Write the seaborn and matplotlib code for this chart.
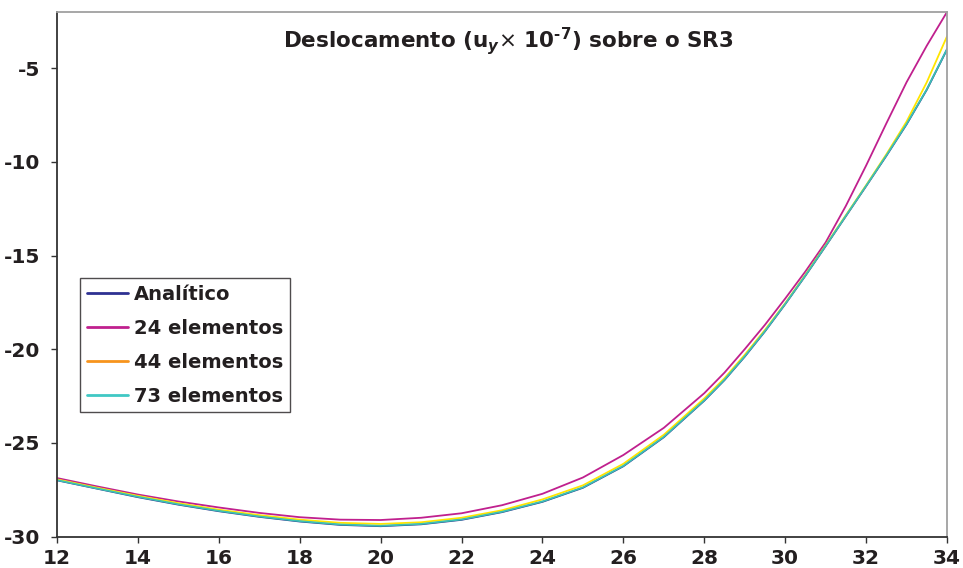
import numpy as np
import pandas as pd
import matplotlib
matplotlib.use("Agg")
import matplotlib.pyplot as plt
from matplotlib.lines import Line2D
import seaborn as sns

# ---- data ----
x_vals = [12, 13, 14, 15, 16, 17, 18, 19, 20, 21, 22, 23, 24, 25, 26, 27,
          28, 28.5, 29, 29.5, 30, 30.5, 31, 31.5, 32, 32.5, 33, 33.5, 34]
analitico = [-27.0, -27.45, -27.9, -28.3, -28.65, -28.95, -29.2, -29.38, -29.45, -29.35, -29.11, -28.7,
             -28.15, -27.4, -26.25, -24.7,
             -22.75, -21.65, -20.4, -19.05, -17.6, -16.08, -14.5, -12.9, -11.3, -9.68, -8.0, -6.15, -4.0]
el24 = [-26.88, -27.33, -27.76, -28.13, -28.45, -28.74, -28.97, -29.1, -29.12, -29.0, -28.76, -28.33,
        -27.72, -26.85, -25.65, -24.2,
        -22.35, -21.25, -20.0, -18.7, -17.3, -15.85, -14.3, -12.35, -10.2, -7.95, -5.75, -3.8, -2.0]
el44 = [-26.95, -27.4, -27.83, -28.22, -28.57, -28.86, -29.1, -29.27, -29.33, -29.24, -29.0, -28.6,
        -28.02, -27.27, -26.12, -24.57,
        -22.63, -21.55, -20.3, -18.97, -17.55, -16.03, -14.45, -12.85, -11.25, -9.6, -7.85, -5.75, -3.3]
el73 = [-26.99, -27.44, -27.88, -28.28, -28.63, -28.93, -29.18, -29.36, -29.43, -29.33, -29.09, -28.68,
        -28.13, -27.38, -26.23, -24.68,
        -22.73, -21.63, -20.38, -19.03, -17.58, -16.06, -14.48, -12.88, -11.28, -9.66, -7.98, -6.13, -3.98]
series_names = ["Analítico", "24 elementos", "44 elementos", "73 elementos"]
y_ticks = [-30, -25, -20, -15, -10, -5]
x_ticks = [12, 14, 16, 18, 20, 22, 24, 26, 28, 30, 32, 34]

line_colors = ["#2E3192", "#C0208E", "#FFE500", "#3CC0B4"]
legend_colors = ["#2E3192", "#C0208E", "#F7941D", "#40C8C4"]

rows = []
for name, vals in zip(series_names, [analitico, el24, el44, el73]):
    for xv, yv in zip(x_vals, vals):
        rows.append({"x": xv, "y": yv, "serie": name})
df = pd.DataFrame(rows)

sns.set_style("white")
plt.rcParams["font.family"] = ["DejaVu Sans"]
plt.rcParams["axes.unicode_minus"] = False
plt.rcParams["mathtext.fontset"] = "custom"
plt.rcParams["mathtext.rm"] = "DejaVu Sans"
plt.rcParams["mathtext.bf"] = "DejaVu Sans:bold"
plt.rcParams["mathtext.it"] = "DejaVu Sans:bold:italic"

fig = plt.figure(figsize=(9.63, 5.68), dpi=100)
ax = fig.add_axes([57 / 963, 1 - 536.5 / 568, 890 / 963, 524.5 / 568])

sns.lineplot(data=df, x="x", y="y", hue="serie", hue_order=series_names,
             palette=dict(zip(series_names, line_colors)), linewidth=1.3,
             legend=False, ax=ax, sort=True)

ax.set_xlim(12, 34)
ax.set_ylim(-30, -2)
ax.set_xticks(x_ticks)
ax.set_yticks(y_ticks)
ax.set_xlabel("")
ax.set_ylabel("")

for side in ["left", "bottom"]:
    ax.spines[side].set_color("#333333")
    ax.spines[side].set_linewidth(1.3)
for side in ["top", "right"]:
    ax.spines[side].set_color("#A0A0A0")
    ax.spines[side].set_linewidth(1.3)

ax.tick_params(axis="y", which="major", direction="out", length=4, width=1.0,
               color="#333333", pad=8, labelsize=14.5, left=True)
ax.tick_params(axis="x", which="major", direction="out", length=4, width=1.0,
               color="#333333", pad=5, labelsize=14.5, bottom=True)
for lab in ax.get_xticklabels() + ax.get_yticklabels():
    lab.set_fontweight("bold")
    lab.set_color("#231F20")

ax.text(0.507, 0.945, "Deslocamento (u$_{y}$$\\times$ 10$^{\\mathbf{\u20107}}$) sobre o SR3",
        transform=ax.transAxes, ha="center", va="center", fontsize=15.5,
        fontweight="bold", color="#231F20")

handles = [Line2D([0], [0], color=c, lw=2.0) for c in legend_colors]
leg = ax.legend(handles, series_names, loc="upper left", bbox_to_anchor=(0.026, 0.492),
                borderaxespad=0, frameon=True, fancybox=False, fontsize=14,
                handlelength=2.1, handletextpad=0.3, labelspacing=0.76,
                borderpad=0.35)
leg.get_frame().set_edgecolor("#231F20")
leg.get_frame().set_linewidth(1.0)
for t in leg.get_texts():
    t.set_fontweight("bold")
    t.set_color("#231F20")

fig.savefig("out.png", dpi=100)
